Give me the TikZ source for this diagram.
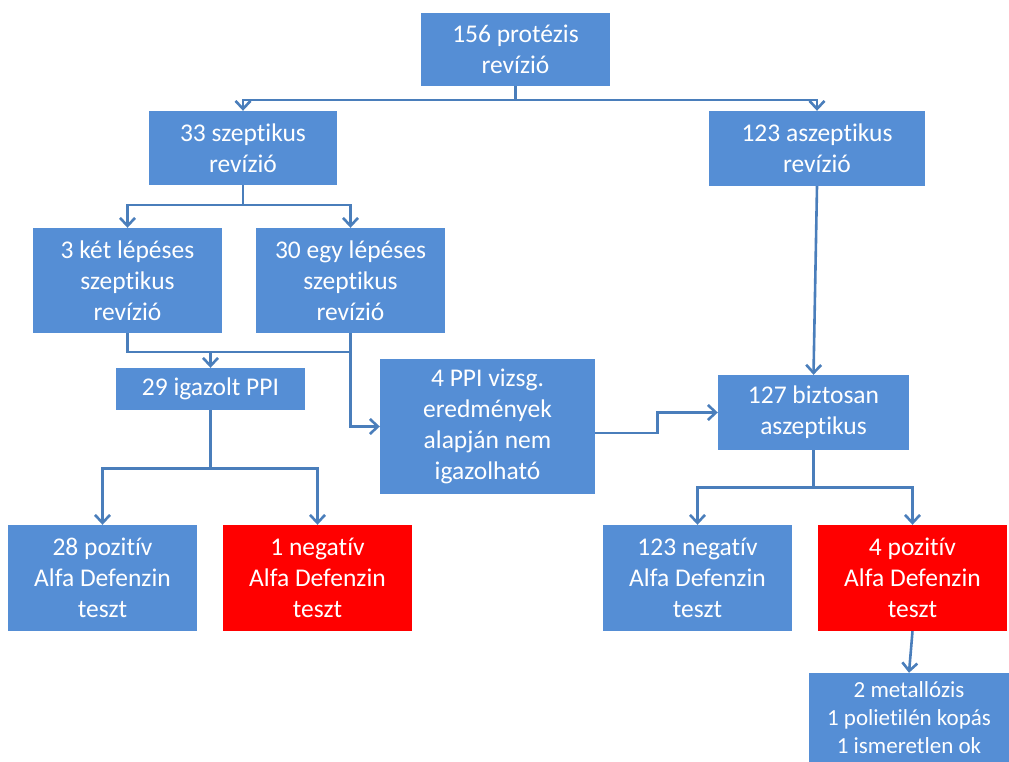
\documentclass[tikz,border=0pt]{standalone}
\usepackage{fontspec}
\setmainfont{Carlito}[RawFeature=-liga]
\usetikzlibrary{arrows.meta}
\definecolor{boxblue}{HTML}{558ED5}
\definecolor{lineblue}{HTML}{4A7EBB}
\tikzset{
    box/.style={fill=boxblue, text=white, align=center, inner sep=0pt,
        font=\fontsize{25.5}{31}\selectfont},
    redbox/.style={box, fill=red},
    >={Straight Barb[length=8pt,width=15pt]},
    conn/.style={draw=lineblue, line width=2.6pt},
}

\begin{document}
\begin{tikzpicture}[x=1pt, y=-1pt]
            \useasboundingbox (0,0) rectangle (1009,762);

            \node [box, minimum width=189pt, minimum height=73pt] (R0) at (515.5, 49.5) {156 protézis\\revízió};
            \node [box, minimum width=188pt, minimum height=74pt] (S1) at (243, 148) {33 szeptikus\\revízió};
            \node [box, minimum width=216pt, minimum height=75pt] (A1) at (817, 148.5) {123 aszeptikus\\revízió};
            \node [box, minimum width=189pt, minimum height=105pt] (S2) at (127.5, 280.5) {3 két lépéses\\szeptikus\\revízió};
            \node [box, minimum width=189pt, minimum height=105pt] (S3) at (350.5, 280.5) {30 egy lépéses\\szeptikus\\revízió};
            \node [box, minimum width=189pt, minimum height=42pt] (P1) at (210.5, 389) {29 igazolt PPI};
            \node [box, minimum width=215pt, minimum height=135pt] (N1) at (487.5, 426.5) {4 PPI vizsg.\\eredmények\\alapján nem\\igazolható};
            \node [box, minimum width=191pt, minimum height=75pt] (A2) at (813.5, 412.5) {127 biztosan\\aszeptikus};
            \node [box, minimum width=189pt, minimum height=106pt] (T1) at (102.5, 578) {28 pozitív\\Alfa Defenzin\\teszt};
            \node [redbox, minimum width=189pt, minimum height=106pt] (T2) at (317.5, 578) {1 negatív\\Alfa Defenzin\\teszt};
            \node [box, minimum width=189pt, minimum height=106pt] (T3) at (697.5, 578) {123 negatív\\Alfa Defenzin\\teszt};
            \node [redbox, minimum width=189pt, minimum height=106pt] (T4) at (912.5, 578) {4 pozitív\\Alfa Defenzin\\teszt};
            \node [box, minimum width=200pt, minimum height=89pt, font=\fontsize{23}{28}\selectfont] (K1) at (909, 717.5) {2 metallózis\\1 polietilén kopás\\1 ismeretlen ok};

            \coordinate (J1) at (210.5, 352);

            \draw [conn, ->] (R0.south) -- ++(0,14) -| (S1.north);
            \draw [conn, ->] (R0.south) -- ++(0,14) -| (A1.north);
            \draw [conn, ->] (S1.south) -- ++(0,20) -| (S2.north);
            \draw [conn, ->] (S1.south) -- ++(0,20) -| (S3.north);
            \draw [conn] (S2.south) |- (J1) -| (S3.south);
            \draw [conn, ->] (J1) -- (P1.north);
            \draw [conn, ->] (S3.south) |- (N1.west);
            \draw [conn, ->] (A1.south) -- (A2.north);
            \draw [conn, ->] ([yshift=-6.5pt]N1.east) -- ++(62,0) |- (A2.west);
            \draw [conn, ->] (P1.south) -- ++(0,58) -| (T1.north);
            \draw [conn, ->] (P1.south) -- ++(0,58) -| (T2.north);
            \draw [conn, ->] (A2.south) -- ++(0,37) -| (T3.north);
            \draw [conn, ->] (A2.south) -- ++(0,37) -| (T4.north);
            \draw [conn, ->] (T4.south) -- (K1.north);
        \end{tikzpicture}
\end{document}
